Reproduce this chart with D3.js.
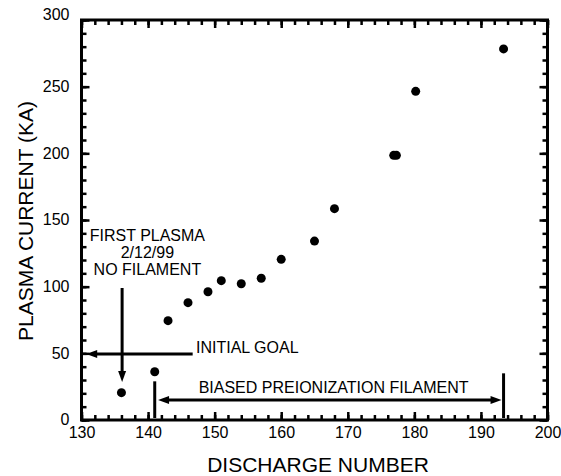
<!DOCTYPE html>
<html>
<head>
<style type="text/css">
  body { margin: 0; background: #fff; }
  svg text { font-family: "Liberation Sans", Arial, sans-serif; fill: #000; }
  .axis text { font-size: 16px; }
  .axis .domain { display: none; }
  .axis line { stroke: #000; stroke-width: 2.5px; }
</style>
</head>
<body>
<div id="chart"></div>
<script src="https://cdnjs.cloudflare.com/ajax/libs/d3/7.8.5/d3.min.js"></script>
<script type="text/javascript">
// discharge number vs plasma current (kA)
var discharge = [136, 141, 143, 146, 149, 151, 154, 157, 160, 165, 168, 176.9, 177.3, 180.2, 193.4];
var current   = [20.5, 36.2, 74.5, 88, 96.2, 104.5, 102.2, 106.3, 120.5, 134.2, 158.5, 198.5, 198.5, 246.5, 278.3];

var xTicks = [130, 140, 150, 160, 170, 180, 190, 200];
var yTicks = [0, 50, 100, 150, 200, 250, 300];
var xMinor = d3.range(130, 201, 2);
var yMinor = d3.range(0, 301, 10);

var firstPlasmaLines = ['FIRST PLASMA', '2/12/99', 'NO FILAMENT'];
var goalLabel = 'INITIAL GOAL';
var filamentLabel = 'BIASED PREIONIZATION FILAMENT';

var cfg = { W: 561, H: 476, left: 81.5, top: 20, w: 466, h: 400 };

var svg = d3.select('#chart').append('svg')
  .attr('width', cfg.W)
  .attr('height', cfg.H);

var g = svg.append('g')
  .attr('transform', 'translate(' + cfg.left + ',' + cfg.top + ')');

var x = d3.scaleLinear().domain([130, 200]).range([0, cfg.w]);
var y = d3.scaleLinear().domain([0, 300]).range([cfg.h, 0]);

// minor ticks, all four sides, pointing in
g.append('g').attr('class', 'axis')
  .attr('transform', 'translate(0,' + cfg.h + ')')
  .call(d3.axisBottom(x).tickValues(xMinor).tickSize(-5).tickFormat(''));
g.append('g').attr('class', 'axis')
  .call(d3.axisTop(x).tickValues(xMinor).tickSize(-5).tickFormat(''));
g.append('g').attr('class', 'axis')
  .call(d3.axisLeft(y).tickValues(yMinor).tickSize(-5).tickFormat(''));
g.append('g').attr('class', 'axis')
  .attr('transform', 'translate(' + cfg.w + ',0)')
  .call(d3.axisRight(y).tickValues(yMinor).tickSize(-5).tickFormat(''));

// major ticks with labels
g.append('g').attr('class', 'axis')
  .attr('transform', 'translate(0,' + cfg.h + ')')
  .call(d3.axisBottom(x).tickValues(xTicks).tickSize(-8).tickPadding(7));
g.append('g').attr('class', 'axis')
  .call(d3.axisTop(x).tickValues(xTicks).tickSize(-8).tickFormat(''));
var yAx = g.append('g').attr('class', 'axis')
  .call(d3.axisLeft(y).tickValues(yTicks).tickSize(-8).tickPadding(12));
g.append('g').attr('class', 'axis')
  .attr('transform', 'translate(' + cfg.w + ',0)')
  .call(d3.axisRight(y).tickValues(yTicks).tickSize(-8).tickFormat(''));

yAx.selectAll('.tick text').attr('dy', function(d) { return d === 300 ? '-0.05em' : '0.3em' });

// frame
g.append('rect')
  .attr('width', cfg.w)
  .attr('height', cfg.h)
  .attr('fill', 'none')
  .attr('stroke', '#000')
  .attr('stroke-width', 3);

// points
g.selectAll('circle.pt')
  .data(d3.range(discharge.length))
  .enter()
  .append('circle')
  .attr('class', 'pt')
  .attr('cx', function(i) { return x(discharge[i]) })
  .attr('cy', function(i) { return y(current[i]) })
  .attr('r', 4.5)
  .attr('fill', '#000');

// annotation helpers
var line = function(x1, y1, x2, y2) {
  g.append('line')
    .attr('x1', x(x1)).attr('y1', y(y1))
    .attr('x2', x(x2)).attr('y2', y(y2))
    .attr('stroke', '#000').attr('stroke-width', 3);
}
var head = function(xv, yv, dir) {
  var px = x(xv), py = y(yv), L = 11, Wd = 4;
  var pts;
  if (dir === 'down') pts = [[px, py], [px - Wd, py - L], [px + Wd, py - L]];
  if (dir === 'left') pts = [[px, py], [px + L, py - Wd], [px + L, py + Wd]];
  if (dir === 'right') pts = [[px, py], [px - L, py - Wd], [px - L, py + Wd]];
  g.append('path')
    .attr('d', 'M' + pts.map(function(p) { return p.join(',') }).join('L') + 'Z')
    .attr('fill', '#000');
}
var label = function(xv, yv, txt, anchor) {
  g.append('text')
    .attr('x', x(xv)).attr('y', y(yv))
    .attr('text-anchor', anchor || 'start')
    .attr('font-size', '16px')
    .text(txt);
}

// first plasma
firstPlasmaLines.forEach(function(t, i) {
  label(139.9, 134 - i * 12.6, t, 'middle');
});
line(136.1, 99, 136.1, 36);
head(136.1, 28.5, 'down');

// initial goal
line(146.7, 49.5, 132, 49.5);
head(130.7, 49.5, 'left');
label(147.2, 50, goalLabel);

// filament span
line(141, 1.5, 141, 29);
line(193.4, 1.5, 193.4, 35);
line(142.8, 15, 191.8, 15);
head(141.5, 15, 'left');
head(193.1, 15, 'right');
label(147.6, 20.3, filamentLabel);

// axis titles
svg.append('text')
  .attr('x', 318).attr('y', 471.5)
  .attr('text-anchor', 'middle')
  .attr('font-size', '21px')
  .text('DISCHARGE NUMBER');

svg.append('text')
  .attr('transform', 'translate(33,221) rotate(-90)')
  .attr('text-anchor', 'middle')
  .attr('font-size', '21px')
  .text('PLASMA CURRENT (KA)');
</script>
</body>
</html>
